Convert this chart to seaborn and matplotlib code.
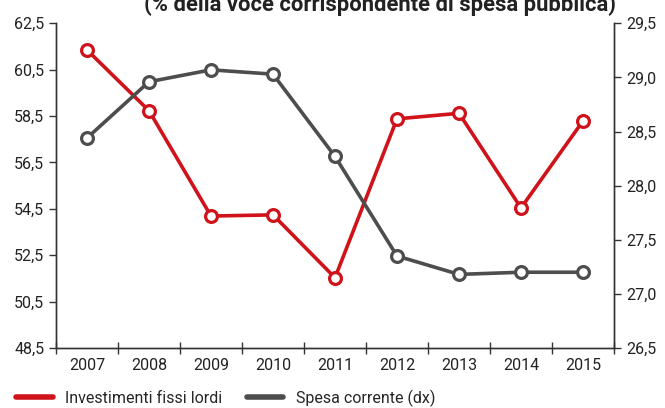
import numpy as np
import pandas as pd
import matplotlib
matplotlib.use("Agg")
import matplotlib.pyplot as plt
import seaborn as sns
from matplotlib.lines import Line2D
from matplotlib.ticker import FuncFormatter, FixedLocator

# dati
anni = ["2007", "2008", "2009", "2010", "2011", "2012", "2013", "2014", "2015"]
investimenti = [61.35, 58.73, 54.19, 54.24, 51.53, 58.38, 58.62, 54.54, 58.29]
spesa_corrente = [28.44, 28.96, 29.07, 29.03, 28.27, 27.35, 27.18, 27.20, 27.20]

ticks_sx = [48.5, 50.5, 52.5, 54.5, 56.5, 58.5, 60.5, 62.5]
ticks_dx = [26.5, 27.0, 27.5, 28.0, 28.5, 29.0, 29.5]

ROSSO = "#D0121B"
GRIGIO = "#4D4D4D"
ASSE = "#333333"

sns.set_style("ticks")
plt.rcParams["font.family"] = ["Roboto", "DejaVu Sans"]

fig = plt.figure(figsize=(6.65, 4.08), dpi=100)
ax = fig.add_axes([56 / 665, 1 - 348 / 408, (614 - 56) / 665, (348 - 23.3) / 408])
ax2 = ax.twinx()

df = pd.DataFrame({"anno": anni, "inv": investimenti, "spesa": spesa_corrente})

stile = dict(marker="o", markersize=8.5, markerfacecolor="white",
             markeredgewidth=2.3, linewidth=2.6)
sns.lineplot(data=df, x="anno", y="inv", ax=ax, color=ROSSO,
             markeredgecolor=ROSSO, zorder=3, **stile)
sns.lineplot(data=df, x="anno", y="spesa", ax=ax2, color=GRIGIO,
             markeredgecolor=GRIGIO, zorder=3, **stile)

fmt = FuncFormatter(lambda v, p: f"{v:.1f}".replace(".", ","))

ax.set_xlim(-0.5, len(anni) - 0.5)
ax.set_ylim(48.5, 62.5)
ax2.set_ylim(26.5, 29.5)
ax.yaxis.set_major_locator(FixedLocator(ticks_sx))
ax2.yaxis.set_major_locator(FixedLocator(ticks_dx))
ax.yaxis.set_major_formatter(fmt)
ax2.yaxis.set_major_formatter(fmt)

ax.set_xticks(range(len(anni)))
ax.set_xticklabels(anni)
ax.set_xticks(np.arange(-0.5, len(anni)), minor=True)
ax.tick_params(axis="x", which="major", length=0, pad=7, labelsize=11.5, colors="#222222")
ax.tick_params(axis="x", which="minor", length=9, direction="inout", width=1, color=ASSE)
ax.tick_params(axis="y", length=5, width=1, color=ASSE, labelsize=11.5, labelcolor="#222222")
ax2.tick_params(axis="y", length=5, width=1, color=ASSE, labelsize=11.5, labelcolor="#222222")

ax.set_xlabel("")
ax.set_ylabel("")
ax2.set_ylabel("")

for a in (ax, ax2):
    a.spines["top"].set_visible(False)
    for s in ("left", "right", "bottom"):
        a.spines[s].set_visible(True)
        a.spines[s].set_color(ASSE)
        a.spines[s].set_linewidth(1)

# titolo tagliato in alto come nell'originale
fig.text(0.571, 1 - 10.5 / 408, "(% della voce corrispondente di spesa pubblica)",
         ha="center", va="baseline", fontsize=15.8, fontweight="bold", color="#222222")

maniglie = [Line2D([], [], color=ROSSO, lw=4, solid_capstyle="round"),
            Line2D([], [], color=GRIGIO, lw=4, solid_capstyle="round")]
fig.legend(maniglie, ["Investimenti fissi lordi", "Spesa corrente (dx)"],
           loc="center left", bbox_to_anchor=(0.024, 1 - 398 / 408), ncol=2,
           frameon=False, fontsize=11.5, handlelength=2.3, handletextpad=0.8,
           columnspacing=1.5, borderaxespad=0, borderpad=0)

fig.savefig("out.png", dpi=100)
